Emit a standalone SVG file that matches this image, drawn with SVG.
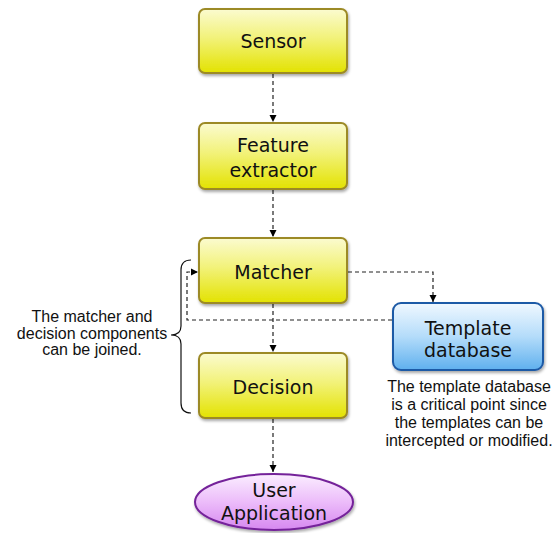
<svg xmlns="http://www.w3.org/2000/svg" width="557" height="533" viewBox="0 0 557 533">
<defs>
<linearGradient id="gy" x1="0" y1="0" x2="0" y2="1">
<stop offset="0" stop-color="#fbfbd0"/>
<stop offset="0.45" stop-color="#f2f27a"/>
<stop offset="1" stop-color="#e3e200"/>
</linearGradient>
<linearGradient id="gb" x1="0" y1="0" x2="0" y2="1">
<stop offset="0" stop-color="#f0f8ff"/>
<stop offset="0.5" stop-color="#b4dcfa"/>
<stop offset="1" stop-color="#5fb0ee"/>
</linearGradient>
<linearGradient id="gp" x1="0" y1="0" x2="0" y2="1">
<stop offset="0" stop-color="#fbeeff"/>
<stop offset="0.5" stop-color="#ecbcfa"/>
<stop offset="1" stop-color="#d688f0"/>
</linearGradient>
<filter id="sh" x="-10%" y="-10%" width="125%" height="130%">
<feGaussianBlur in="SourceAlpha" stdDeviation="1.5"/>
<feOffset dx="1" dy="2" result="o"/>
<feComponentTransfer><feFuncA type="linear" slope="0.35"/></feComponentTransfer>
<feMerge><feMergeNode/><feMergeNode in="SourceGraphic"/></feMerge>
</filter>
<marker id="ah" markerWidth="8" markerHeight="8" refX="7" refY="4" orient="auto" markerUnits="userSpaceOnUse">
<path d="M0,0.5 L7,4 L0,7.5 Z" fill="#000"/>
</marker>
</defs>
<style>
.box{fill:url(#gy);stroke:#9c8a26;stroke-width:2;filter:url(#sh)}
.db{fill:url(#gb);stroke:#1f5aa6;stroke-width:2;filter:url(#sh)}
.app{fill:url(#gp);stroke:#74249a;stroke-width:2;filter:url(#sh)}
.lbl{font-family:"DejaVu Sans",sans-serif;font-size:19px;fill:#111;text-anchor:middle}
.note{font-family:"Liberation Sans",Arial,sans-serif;font-size:16px;fill:#111;text-anchor:middle}
.con{fill:none;stroke:#222;stroke-width:1.2;stroke-dasharray:4,3}
</style>
<g id="connectors">
<path class="con" d="M273,74 V122" marker-end="url(#ah)"/>
<path class="con" d="M273,190 V237" marker-end="url(#ah)"/>
<path class="con" d="M273,304 V352" marker-end="url(#ah)"/>
<path class="con" d="M273,419 V472" marker-end="url(#ah)"/>
<path class="con" d="M348,272 H433 V302" marker-end="url(#ah)"/>
<path class="con" d="M392,320 H187 V272 H198" marker-end="url(#ah)"/>
</g>
<g id="sensor">
<rect class="box" x="199" y="9" width="148" height="64" rx="6"/>
<text class="lbl" x="273" y="48">Sensor</text>
</g>
<g id="feature-extractor">
<rect class="box" x="199" y="123" width="148" height="66" rx="6"/>
<text class="lbl" x="273" y="152">Feature</text>
<text class="lbl" x="273" y="177">extractor</text>
</g>
<g id="matcher">
<rect class="box" x="199" y="238" width="148" height="65" rx="6"/>
<text class="lbl" x="273" y="279">Matcher</text>
</g>
<g id="decision">
<rect class="box" x="199" y="353" width="148" height="65" rx="6"/>
<text class="lbl" x="273" y="394">Decision</text>
</g>
<g id="user-application">
<ellipse class="app" cx="274" cy="502" rx="79" ry="28"/>
<text class="lbl" x="274" y="497">User</text>
<text class="lbl" x="274" y="520">Application</text>
</g>
<g id="template-database">
<rect class="db" x="393" y="303" width="150" height="67" rx="8"/>
<text class="lbl" x="468" y="335">Template</text>
<text class="lbl" x="468" y="357">database</text>
</g>
<g id="brace">
<path d="M191,260 Q181,260 181,270 V326 Q181,335 171,335 Q181,335 181,344 V403 Q181,413 191,413" fill="none" stroke="#111" stroke-width="1.2"/>
</g>
<g id="note-left">
<text class="note" x="92" y="322">The matcher and</text>
<text class="note" x="92" y="338.5">decision components</text>
<text class="note" x="92" y="355">can be joined.</text>
</g>
<g id="note-right">
<text class="note" x="469" y="392">The template database</text>
<text class="note" x="469" y="410">is a critical point since</text>
<text class="note" x="469" y="428">the templates can be</text>
<text class="note" x="469" y="446">intercepted or modified.</text>
</g>
</svg>
